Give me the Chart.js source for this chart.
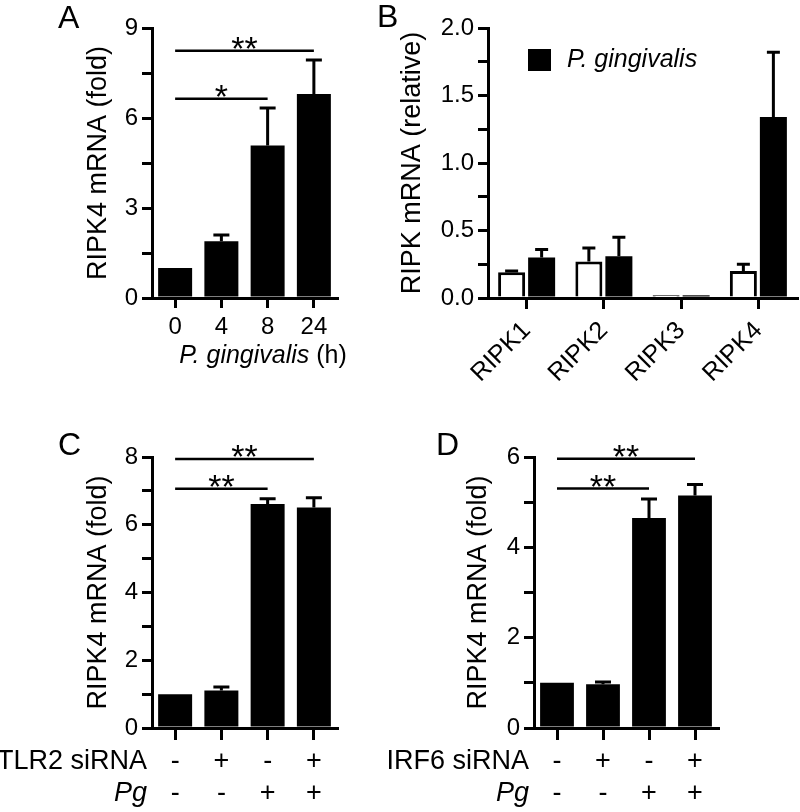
<!DOCTYPE html>
<html>
<head>
<meta charset="utf-8">
<script src="https://cdn.jsdelivr.net/npm/chart.js@4.4.1/dist/chart.umd.min.js"></script>
<style>
  html, body { margin: 0; padding: 0; background: #fff; }
  #fig { position: relative; width: 800px; height: 812px; overflow: hidden; }
  #fig canvas { position: absolute; }
</style>
</head>
<body>
<div id="fig">
  <canvas id="panelA" width="400" height="400" style="left:0;top:0;width:400px;height:400px"></canvas>
  <canvas id="panelB" width="430" height="400" style="left:370px;top:0;width:430px;height:400px"></canvas>
  <canvas id="panelC" width="400" height="412" style="left:0;top:400px;width:400px;height:412px"></canvas>
  <canvas id="panelD" width="420" height="412" style="left:380px;top:400px;width:420px;height:412px"></canvas>
</div>
<script>
const FONT = "'Liberation Sans', Arial, Helvetica, sans-serif";
Chart.defaults.font.family = FONT;
Chart.defaults.color = '#000';

// A - time course
const timeLabels = ['0', '4', '8', '24'];
const timeValues = [1.0, 1.89, 5.08, 6.8];
const timeErrors = [0, 0.21, 1.25, 1.13];

// B - RIPK family
const ripkLabels = ['RIPK1', 'RIPK2', 'RIPK3', 'RIPK4'];
const ripkControl = [0.19, 0.27, 0.02, 0.2];
const ripkControlErr = [0.01, 0.1, 0, 0.05];
const ripkPg = [0.3, 0.31, 0.02, 1.34];
const ripkPgErr = [0.06, 0.14, 0, 0.48];

// C - TLR2 siRNA
const tlr2Sirna = ['-', '+', '-', '+'];
const tlr2Pg = ['-', '-', '+', '+'];
const tlr2Values = [1.0, 1.11, 6.61, 6.51];
const tlr2Errors = [0, 0.1, 0.16, 0.29];

// D - IRF6 siRNA
const irf6Sirna = ['-', '+', '-', '+'];
const irf6Pg = ['-', '-', '+', '+'];
const irf6Values = [1.0, 0.97, 4.65, 5.15];
const irf6Errors = [0, 0.05, 0.42, 0.24];

const figureExtras = {
  id: 'figureExtras',
  afterDatasetsDraw(chart, args, opts) {
    const ctx = chart.ctx;
    const yScale = chart.scales.y;
    ctx.save();
    ctx.strokeStyle = '#000';
    ctx.fillStyle = '#000';

    // error bars, upper half only
    chart.data.datasets.forEach((ds, i) => {
      if (!ds.errors) return;
      chart.getDatasetMeta(i).data.forEach((bar, j) => {
        const err = ds.errors[j];
        if (!err) return;
        const top = yScale.getPixelForValue(ds.data[j] + err);
        ctx.lineWidth = 3;
        ctx.beginPath();
        ctx.moveTo(bar.x, bar.y);
        ctx.lineTo(bar.x, top);
        ctx.moveTo(bar.x - opts.cap / 2, top);
        ctx.lineTo(bar.x + opts.cap / 2, top);
        ctx.stroke();
      });
    });

    // significance brackets
    const bars = chart.getDatasetMeta(0).data;
    (opts.sig || []).forEach((s) => {
      const x1 = bars[s.from].x;
      const x2 = bars[s.to].x;
      const y = yScale.getPixelForValue(s.level);
      ctx.lineWidth = 2.5;
      ctx.beginPath();
      ctx.moveTo(x1, y);
      ctx.lineTo(x2, y);
      ctx.stroke();
      ctx.font = '34px ' + FONT;
      ctx.textAlign = 'center';
      ctx.textBaseline = 'alphabetic';
      ctx.fillText(s.text, (x1 + x2) / 2, y + 9);
    });
    ctx.restore();
  },
  afterDraw(chart, args, opts) {
    const ctx = chart.ctx;
    ctx.save();
    ctx.fillStyle = '#000';

    if (opts.letter) {
      ctx.font = '32px ' + FONT;
      ctx.textAlign = 'left';
      ctx.textBaseline = 'alphabetic';
      ctx.fillText(opts.letter.text, opts.letter.x, opts.letter.y);
    }

    if (opts.legend) {
      const lg = opts.legend;
      ctx.fillRect(lg.x, lg.y, 23, 22);
      ctx.font = 'italic 25px ' + FONT;
      ctx.textAlign = 'left';
      ctx.textBaseline = 'middle';
      ctx.fillText(lg.text, lg.x + 39, lg.y + 11);
    }

    // x title with mixed italic / upright parts
    if (opts.xTitle) {
      const parts = opts.xTitle.parts;
      const fonts = parts.map((p) => (p.italic ? 'italic ' : '') + opts.xTitle.size + 'px ' + FONT);
      let total = 0;
      const widths = parts.map((p, i) => {
        ctx.font = fonts[i];
        const w = ctx.measureText(p.text).width;
        total += w;
        return w;
      });
      let x = opts.xTitle.cx - total / 2;
      ctx.textAlign = 'left';
      ctx.textBaseline = 'middle';
      parts.forEach((p, i) => {
        ctx.font = fonts[i];
        ctx.fillText(p.text, x, opts.xTitle.cy);
        x += widths[i];
      });
    }

    // row titles next to the +/- rows
    if (opts.rows) {
      const xs = chart.scales.x;
      const xo = xs.options;
      const lh = xo.ticks.font.size * xo.ticks.font.lineHeight;
      const y0 = xs.top + xo.grid.tickLength + xo.ticks.padding + lh / 2;
      ctx.textAlign = 'right';
      ctx.textBaseline = 'middle';
      opts.rows.forEach((r, i) => {
        ctx.font = (r.italic ? 'italic ' : '') + '27px ' + FONT;
        ctx.fillText(r.text, chart.chartArea.left - 5, y0 + i * lh);
      });
    }
    ctx.restore();
  }
};

const axisGrid = (tickLength) => ({
  drawOnChartArea: false,
  color: '#000',
  lineWidth: 3,
  tickLength: tickLength
});

function yAxis(max, step, labelEvery, decimals, title, width) {
  return {
    min: 0,
    max: max,
    afterFit: (scale) => { scale.width = width; },
    border: { color: '#000', width: 3 },
    grid: axisGrid(10),
    ticks: {
      stepSize: step,
      padding: 4,
      color: '#000',
      font: { size: 24 },
      callback: (v) => {
        const r = v / labelEvery;
        return Math.abs(r - Math.round(r)) < 1e-6 ? v.toFixed(decimals) : '';
      }
    },
    title: { display: true, text: title, color: '#000', font: { size: 27 }, padding: 4 }
  };
}

function xAxis(height, tickLength, padding, font, extra) {
  return {
    afterFit: (scale) => { scale.height = height; },
    border: { color: '#000', width: 3 },
    grid: Object.assign(axisGrid(tickLength), { offset: false }),
    ticks: Object.assign({ padding: padding, color: '#000', autoSkip: false, maxRotation: 0, font: font }, extra || {})
  };
}

const blackBars = (data, errors, label) => ({
  label: label,
  data: data,
  errors: errors,
  backgroundColor: '#000',
  borderWidth: 0,
  barPercentage: 0.735,
  categoryPercentage: 1
});

// Panel A
new Chart(document.getElementById('panelA'), {
  type: 'bar',
  data: {
    labels: timeLabels,
    datasets: [blackBars(timeValues, timeErrors, 'RIPK4')]
  },
  options: {
    responsive: false,
    animation: false,
    layout: { padding: { left: 78, top: 28, right: 63, bottom: 0 } },
    scales: {
      x: xAxis(102, 10, 5, { size: 24 }),
      y: yAxis(9, 1.5, 3, 0, 'RIPK4 mRNA (fold)', 74)
    },
    plugins: {
      legend: { display: false },
      tooltip: { enabled: false },
      figureExtras: {
        cap: 16,
        letter: { text: 'A', x: 58, y: 28 },
        sig: [
          { from: 0, to: 2, level: 6.64, text: '*' },
          { from: 0, to: 3, level: 8.24, text: '**' }
        ],
        xTitle: { cx: 263, cy: 356, size: 25, parts: [{ text: 'P. gingivalis', italic: true }, { text: ' (h)' }] }
      }
    }
  },
  plugins: [figureExtras]
});

// Panel B
new Chart(document.getElementById('panelB'), {
  type: 'bar',
  data: {
    labels: ripkLabels,
    datasets: [
      {
        label: 'Control',
        data: ripkControl,
        errors: ripkControlErr,
        backgroundColor: '#fff',
        borderColor: '#000',
        borderWidth: 3,
        barPercentage: 0.9,
        categoryPercentage: 0.777
      },
      {
        label: 'P. gingivalis',
        data: ripkPg,
        errors: ripkPgErr,
        backgroundColor: '#000',
        borderWidth: 0,
        barPercentage: 0.9,
        categoryPercentage: 0.777
      }
    ]
  },
  options: {
    responsive: false,
    animation: false,
    layout: { padding: { left: 22, top: 28, right: 3, bottom: 0 } },
    scales: {
      x: xAxis(102, 11, 7, { size: 25 }, { minRotation: 45, maxRotation: 45 }),
      y: yAxis(2, 0.25, 0.5, 1, 'RIPK mRNA (relative)', 96)
    },
    plugins: {
      legend: { display: false },
      tooltip: { enabled: false },
      figureExtras: {
        cap: 13,
        letter: { text: 'B', x: 7, y: 27 },
        legend: { text: 'P. gingivalis', x: 158, y: 49 }
      }
    }
  },
  plugins: [figureExtras]
});

// Panels C and D
function knockdownChart(id, sirna, pg, values, errors, max, yWidth, padRight, rowTitle, letterX, sig) {
  return new Chart(document.getElementById(id), {
    type: 'bar',
    data: {
      labels: sirna.map((s, i) => [s, pg[i]]),
      datasets: [blackBars(values, errors, 'RIPK4')]
    },
    options: {
      responsive: false,
      animation: false,
      layout: { padding: { left: 78, top: 57, right: padRight, bottom: 0 } },
      scales: {
        x: xAxis(84, 12, 6.5, { size: 27, lineHeight: 1.15 }),
        y: yAxis(max, 1, 2, 0, 'RIPK4 mRNA (fold)', yWidth)
      },
      plugins: {
        legend: { display: false },
        tooltip: { enabled: false },
        figureExtras: {
          cap: 16,
          letter: { text: id === 'panelC' ? 'C' : 'D', x: letterX, y: 55 },
          sig: sig,
          rows: [{ text: rowTitle }, { text: 'Pg', italic: true }]
        }
      }
    },
    plugins: [figureExtras]
  });
}

knockdownChart('panelC', tlr2Sirna, tlr2Pg, tlr2Values, tlr2Errors, 8, 74, 63, 'TLR2 siRNA', 58, [
  { from: 0, to: 2, level: 7.06, text: '**' },
  { from: 0, to: 3, level: 7.94, text: '**' }
]);

knockdownChart('panelD', irf6Sirna, irf6Pg, irf6Values, irf6Errors, 6, 76, 82, 'IRF6 siRNA', 56, [
  { from: 0, to: 2, level: 5.3, text: '**' },
  { from: 0, to: 3, level: 5.96, text: '**' }
]);
</script>
</body>
</html>
